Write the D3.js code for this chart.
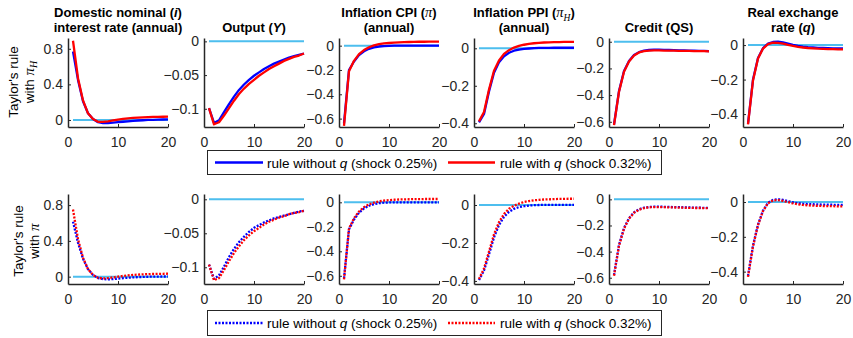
<!DOCTYPE html>
<html>
<head>
<meta charset="utf-8">
<script src="https://cdn.jsdelivr.net/npm/d3@7"></script>
<style>
body { margin: 0; background: #fff; }
svg { display: block; font-family: "Liberation Sans", Arial, sans-serif; }
</style>
</head>
<body>
<svg id="chart" width="853" height="338"></svg>
<script>
var periods = [1, 2, 3, 4, 5, 6, 7, 8, 9, 10, 11, 12, 13, 14, 15, 16, 17, 18, 19, 20];

// top row: Taylor's rule with pi_H
var hRateNoQ = [0.77, 0.45, 0.21, 0.075, 0.01, -0.025, -0.035, -0.035, -0.03, -0.025, -0.02, -0.015, -0.01, -0.006, -0.003, 0.0, 0.002, 0.004, 0.005, 0.006];
var hRateQ = [0.89, 0.47, 0.22, 0.075, 0.01, -0.02, -0.022, -0.015, -0.005, 0.005, 0.012, 0.018, 0.023, 0.027, 0.03, 0.032, 0.034, 0.035, 0.036, 0.037];
var hOutputNoQ = [-0.099, -0.121, -0.117, -0.105, -0.093, -0.082, -0.072, -0.064, -0.057, -0.051, -0.046, -0.041, -0.037, -0.033, -0.030, -0.027, -0.024, -0.022, -0.020, -0.018];
var hOutputQ = [-0.099, -0.123, -0.120, -0.110, -0.099, -0.088, -0.078, -0.070, -0.063, -0.057, -0.051, -0.046, -0.041, -0.037, -0.033, -0.029, -0.026, -0.023, -0.021, -0.018];
var hCpiNoQ = [-0.64, -0.20, -0.13, -0.078, -0.046, -0.026, -0.014, -0.007, -0.003, -0.001, 0, 0.001, 0.001, 0.001, 0.001, 0.001, 0.001, 0.001, 0.001, 0.001];
var hCpiQ = [-0.66, -0.21, -0.125, -0.07, -0.036, -0.013, 0.002, 0.012, 0.018, 0.022, 0.025, 0.027, 0.029, 0.030, 0.031, 0.032, 0.032, 0.033, 0.033, 0.033];
var hPpiNoQ = [-0.395, -0.35, -0.23, -0.13, -0.075, -0.043, -0.024, -0.013, -0.007, -0.003, -0.001, 0.001, 0.002, 0.002, 0.002, 0.003, 0.003, 0.003, 0.003, 0.003];
var hPpiQ = [-0.39, -0.34, -0.22, -0.12, -0.065, -0.03, -0.01, 0.004, 0.013, 0.019, 0.024, 0.027, 0.029, 0.031, 0.032, 0.033, 0.033, 0.034, 0.034, 0.034];
var hCreditNoQ = [-0.62, -0.37, -0.22, -0.145, -0.10, -0.078, -0.067, -0.062, -0.060, -0.060, -0.061, -0.062, -0.063, -0.064, -0.065, -0.066, -0.067, -0.068, -0.069, -0.070];
var hCreditQ = [-0.625, -0.375, -0.225, -0.148, -0.103, -0.080, -0.070, -0.066, -0.065, -0.065, -0.066, -0.067, -0.067, -0.068, -0.069, -0.069, -0.070, -0.071, -0.071, -0.072];
var hRerNoQ = [-0.455, -0.20, -0.075, -0.018, 0.008, 0.018, 0.020, 0.015, 0.008, 0.001, -0.005, -0.009, -0.012, -0.014, -0.016, -0.017, -0.018, -0.019, -0.020, -0.020];
var hRerQ = [-0.46, -0.205, -0.078, -0.020, 0.005, 0.014, 0.013, 0.008, 0.001, -0.005, -0.010, -0.014, -0.017, -0.019, -0.021, -0.022, -0.023, -0.024, -0.025, -0.025];

// bottom row: Taylor's rule with pi
var pRateNoQ = [0.615, 0.38, 0.20, 0.085, 0.02, -0.015, -0.028, -0.030, -0.027, -0.022, -0.017, -0.012, -0.008, -0.005, -0.003, -0.001, 0, 0.001, 0.002, 0.002];
var pRateQ = [0.75, 0.42, 0.21, 0.085, 0.018, -0.012, -0.020, -0.016, -0.008, 0, 0.008, 0.014, 0.019, 0.023, 0.026, 0.028, 0.030, 0.031, 0.032, 0.033];
var pOutputNoQ = [-0.096, -0.117, -0.112, -0.099, -0.085, -0.073, -0.063, -0.055, -0.048, -0.042, -0.038, -0.034, -0.031, -0.028, -0.026, -0.024, -0.022, -0.020, -0.018, -0.017];
var pOutputQ = [-0.096, -0.119, -0.116, -0.104, -0.091, -0.079, -0.069, -0.060, -0.053, -0.047, -0.042, -0.037, -0.033, -0.030, -0.027, -0.025, -0.022, -0.020, -0.019, -0.017];
var pCpiNoQ = [-0.62, -0.22, -0.14, -0.085, -0.05, -0.028, -0.015, -0.007, -0.003, -0.001, 0, 0, 0, 0, 0, 0, 0, 0, 0, 0];
var pCpiQ = [-0.63, -0.215, -0.13, -0.075, -0.04, -0.017, -0.002, 0.008, 0.014, 0.018, 0.021, 0.023, 0.024, 0.025, 0.026, 0.026, 0.027, 0.027, 0.027, 0.027];
var pPpiNoQ = [-0.395, -0.345, -0.26, -0.17, -0.105, -0.062, -0.036, -0.02, -0.011, -0.006, -0.003, -0.001, 0, 0.001, 0.001, 0.001, 0.001, 0.001, 0.001, 0.001];
var pPpiQ = [-0.39, -0.335, -0.245, -0.155, -0.09, -0.047, -0.02, -0.004, 0.007, 0.016, 0.021, 0.025, 0.027, 0.029, 0.030, 0.031, 0.032, 0.032, 0.033, 0.033];
var pCreditNoQ = [-0.58, -0.35, -0.22, -0.145, -0.10, -0.076, -0.064, -0.058, -0.056, -0.056, -0.057, -0.058, -0.059, -0.060, -0.061, -0.062, -0.063, -0.064, -0.065, -0.066];
var pCreditQ = [-0.585, -0.355, -0.225, -0.148, -0.103, -0.079, -0.067, -0.061, -0.059, -0.059, -0.060, -0.061, -0.062, -0.063, -0.064, -0.065, -0.066, -0.066, -0.067, -0.068];
var pRerNoQ = [-0.425, -0.25, -0.13, -0.05, -0.005, 0.012, 0.016, 0.012, 0.005, -0.002, -0.007, -0.010, -0.012, -0.013, -0.014, -0.015, -0.015, -0.016, -0.016, -0.016];
var pRerQ = [-0.43, -0.255, -0.133, -0.052, -0.007, 0.009, 0.011, 0.006, -0.001, -0.008, -0.013, -0.017, -0.019, -0.021, -0.022, -0.023, -0.024, -0.024, -0.025, -0.025];

var xTicks = [0, 10, 20];
var yTicks = [[0, 0.4, 0.8], [-0.1, -0.05, 0], [-0.6, -0.4, -0.2, 0], [-0.4, -0.2, 0], [-0.6, -0.4, -0.2, 0], [-0.4, -0.2, 0]];

// title segments: [text, kind]
var titles = [
  [[["Domestic nominal (", "b"], ["i", "bi"], [")", "b"]], [["interest rate (annual)", "b"]]],
  [[["Output (", "b"], ["Y", "bi"], [")", "b"]]],
  [[["Inflation CPI (", "b"], ["\u03c0", "pi"], [")", "b"]], [["(annual)", "b"]]],
  [[["Inflation PPI (", "b"], ["\u03c0", "pi"], ["H", "sub"], [")", "b"]], [["(annual)", "b"]]],
  [[["Credit (QS)", "b"]]],
  [[["Real exchange", "b"]], [["rate (", "b"], ["q", "bi"], [")", "b"]]]
];
var rowLabels = [
  [[["Taylor's rule", "n"]], [["with ", "n"], ["\u03c0", "pi"], ["H", "sub"]]],
  [[["Taylor's rule", "n"]], [["with ", "n"], ["\u03c0", "pi"]]]
];
var legendLabels = [
  [["rule without ", "n"], ["q", "i"], [" (shock 0.25%)", "n"]],
  [["rule with ", "n"], ["q", "i"], [" (shock 0.32%)", "n"]]
];

var rows = [
  { series: [[hRateNoQ, hRateQ], [hOutputNoQ, hOutputQ], [hCpiNoQ, hCpiQ], [hPpiNoQ, hPpiQ], [hCreditNoQ, hCreditQ], [hRerNoQ, hRerQ]],
    top: 38, bottom: 127, dotted: false, labelX: [18, 33.5], labelY: 82, legendY: 150.5, legendH: 24,
    domains: [[-0.079, 0.921], [-0.127, 0.005], [-0.669, 0.063], [-0.42, 0.055], [-0.639, 0.028], [-0.475, 0.041]] },
  { series: [[pRateNoQ, pRateQ], [pOutputNoQ, pOutputQ], [pCpiNoQ, pCpiQ], [pPpiNoQ, pPpiQ], [pCreditNoQ, pCreditQ], [pRerNoQ, pRerQ]],
    top: 194, bottom: 284, dotted: true, labelX: [23, 38.5], labelY: 241, legendY: 310.5, legendH: 25,
    domains: [[-0.082, 0.924], [-0.1246, 0.0078], [-0.667, 0.068], [-0.416, 0.058], [-0.648, 0.041], [-0.471, 0.046]] }
];
var lefts = [68, 204, 339, 474, 609, 743];
var plotW = 100;
var colors = ["#0000ff", "#ff0000"];
var zeroColor = "#4dbeee";
var axisColor = "#262626";

var svg = d3.select("#chart");
var fmt = function(d) { return d === 0 ? "0" : d3.format("~g")(d); };

var richText = function(sel, segs, size) {
  var shift = 0;
  segs.forEach(function(seg) {
    var t = sel.append("tspan").text(seg[0]);
    var kind = seg[1];
    if (kind === "b") t.attr("font-weight", "bold");
    if (kind === "bi") t.attr("font-weight", "bold").attr("font-style", "italic");
    if (kind === "i") t.attr("font-style", "italic");
    if (kind === "pi" || kind === "sub") {
      t.attr("font-family", "'Liberation Serif', 'Times New Roman', serif")
        .attr("font-style", "italic").attr("font-weight", "normal");
    }
    if (kind === "pi") t.attr("font-size", (size + 1.5) + "px");
    if (kind === "sub") {
      t.attr("font-size", (size - 3.5) + "px").attr("dy", 3.5);
      shift = 3.5;
    } else if (shift) {
      t.attr("dy", -shift);
      shift = 0;
    }
  });
};

var drawPanel = function(row, c) {
  var left = lefts[c];
  var x = d3.scaleLinear().domain([0, 20]).range([left, left + plotW]);
  var y = d3.scaleLinear().domain(row.domains[c]).range([row.bottom, row.top]);
  var g = svg.append("g");

  // zero reference line
  g.append("line")
    .attr("x1", x(periods[0])).attr("x2", x(periods[periods.length - 1]))
    .attr("y1", y(0)).attr("y2", y(0))
    .attr("stroke", zeroColor).attr("stroke-width", 2);

  var line = d3.line().x(function(d) { return x(d[0]); }).y(function(d) { return y(d[1]); });
  row.series[c].forEach(function(vals, k) {
    g.append("path")
      .datum(d3.zip(periods, vals))
      .attr("d", line)
      .attr("fill", "none")
      .attr("stroke", colors[k])
      .attr("stroke-width", 2.3)
      .attr("stroke-linejoin", "round")
      .attr("stroke-dasharray", row.dotted ? "2,1.5" : null);
  });

  var xa = g.append("g").attr("transform", "translate(0," + row.bottom + ")")
    .call(d3.axisBottom(x).tickValues(xTicks).tickFormat(fmt).tickSizeInner(-3).tickSizeOuter(0).tickPadding(10));
  var ya = g.append("g").attr("transform", "translate(" + left + ",0)")
    .call(d3.axisLeft(y).tickValues(yTicks[c]).tickFormat(fmt).tickSizeInner(-3).tickSizeOuter(0).tickPadding(5));
  [xa, ya].forEach(function(a) {
    a.attr("font-family", null).attr("font-size", null);
    a.select(".domain").attr("stroke", axisColor).attr("stroke-width", 1.5);
    a.selectAll(".tick line").attr("stroke", axisColor).attr("stroke-width", 1);
    a.selectAll(".tick text").attr("fill", axisColor).style("font-size", "14px");
  });
};

rows.forEach(function(row, r) {
  lefts.forEach(function(left, c) { drawPanel(row, c); });

  // row label, two rotated lines
  rowLabels[r].forEach(function(segs, i) {
    var t = svg.append("text")
      .attr("transform", "translate(" + row.labelX[i] + "," + row.labelY + ") rotate(-90)")
      .attr("text-anchor", "middle").attr("fill", "#000").style("font-size", "13.5px");
    richText(t, segs, 13.5);
  });

  // legend
  var lg = svg.append("g");
  lg.append("rect").attr("x", 207.5).attr("y", row.legendY).attr("width", 454).attr("height", row.legendH)
    .attr("fill", "#fff").attr("stroke", axisColor).attr("stroke-width", 1);
  var cy = row.legendY + row.legendH / 2;
  [[215, 263, 267], [448, 495, 500]].forEach(function(p, k) {
    lg.append("line").attr("x1", p[0]).attr("x2", p[1]).attr("y1", cy).attr("y2", cy)
      .attr("stroke", colors[k]).attr("stroke-width", 2.3)
      .attr("stroke-dasharray", row.dotted ? "2,1.5" : null);
    var t = lg.append("text").attr("x", p[2]).attr("y", cy + 5).attr("fill", "#000").style("font-size", "13.5px");
    richText(t, legendLabels[k], 13.5);
  });
});

// column titles
titles.forEach(function(lines, c) {
  var cx = lefts[c] + plotW / 2;
  var base = lines.length === 2 ? [17, 32] : [32];
  lines.forEach(function(segs, i) {
    var t = svg.append("text").attr("x", cx).attr("y", base[i])
      .attr("text-anchor", "middle").attr("fill", "#000").style("font-size", "13px");
    richText(t, segs, 13);
  });
});
</script>
</body>
</html>
